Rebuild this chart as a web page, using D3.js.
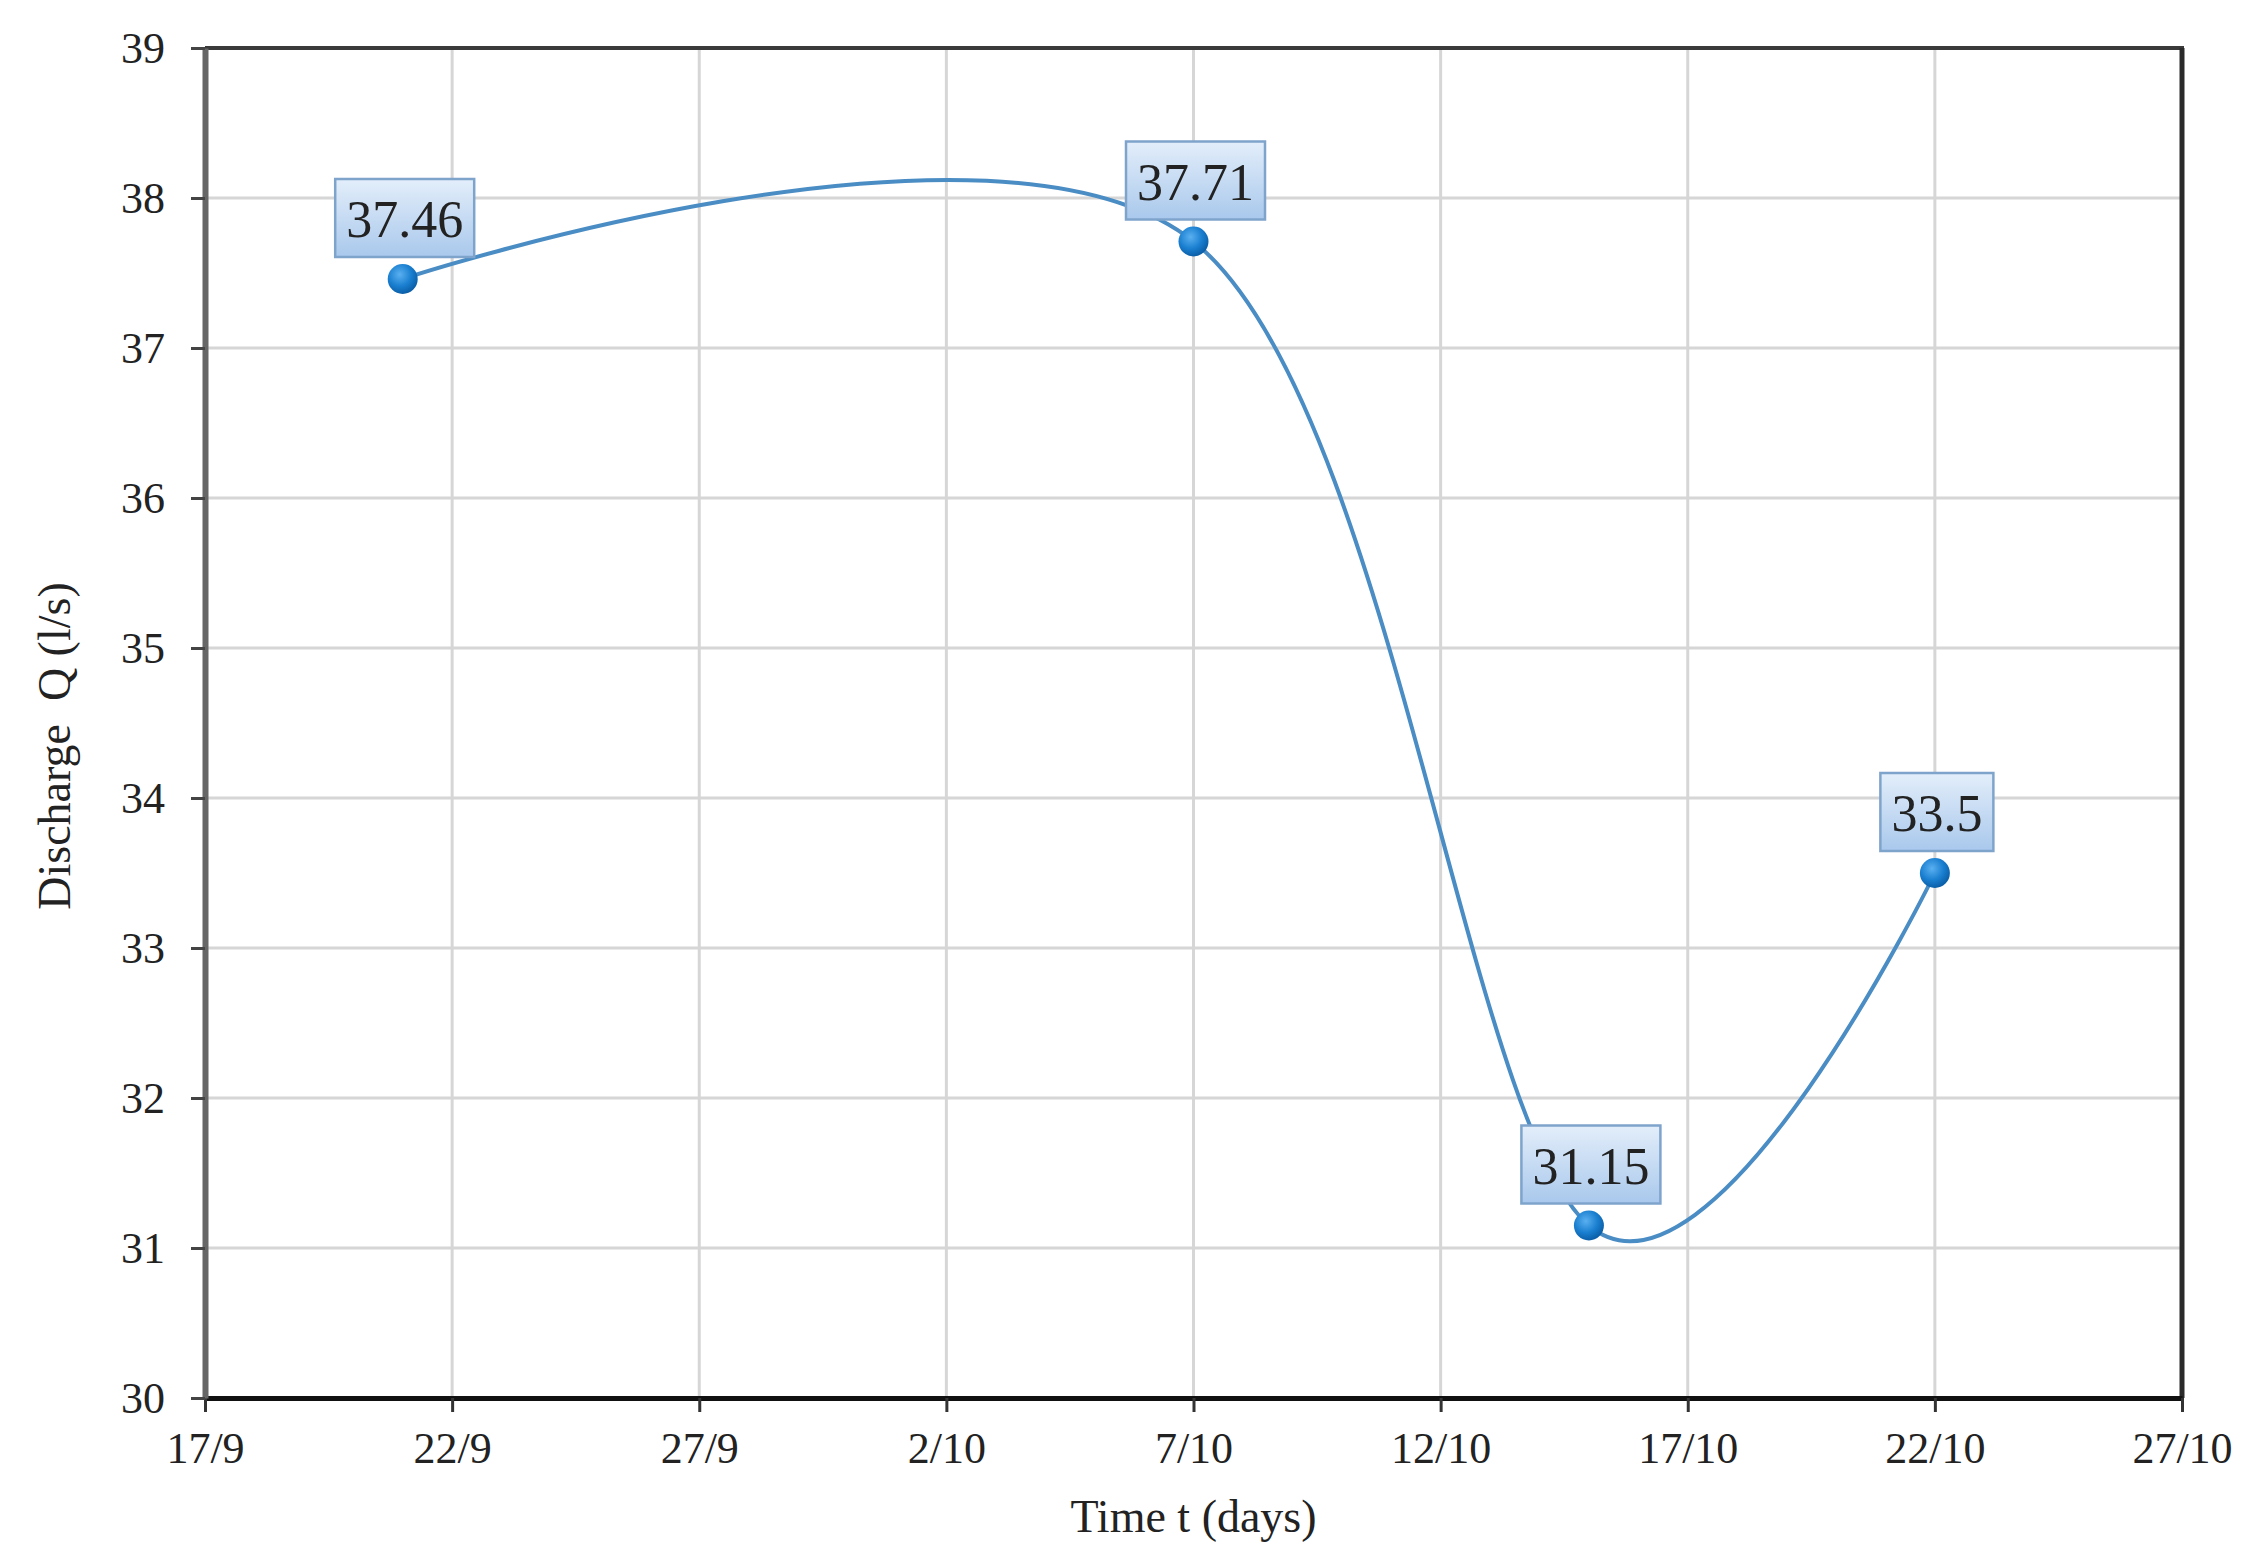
<!DOCTYPE html>
<html>
<head>
<meta charset="utf-8">
<script src="https://cdn.jsdelivr.net/npm/d3@7"></script>
<style>
  html, body { margin: 0; padding: 0; background: #ffffff; }
  svg { display: block; }
  text { font-family: "Liberation Serif", "Times New Roman", serif; fill: #222; }
</style>
</head>
<body>
<svg id="chart" width="2244" height="1547"></svg>
<script>
// ---------- data ----------
const dates = ["2013-09-21", "2013-10-07", "2013-10-15", "2013-10-22"];
const discharge = [37.46, 37.71, 31.15, 33.5];
const pointLabels = ["37.46", "37.71", "31.15", "33.5"];
const xTickDates = ["2013-09-17", "2013-09-22", "2013-09-27", "2013-10-02", "2013-10-07",
                    "2013-10-12", "2013-10-17", "2013-10-22", "2013-10-27"];
const xTickLabels = ["17/9", "22/9", "27/9", "2/10", "7/10", "12/10", "17/10", "22/10", "27/10"];
const yTicks = [30, 31, 32, 33, 34, 35, 36, 37, 38, 39];
const xTitle = "Time t (days)";
const yTitle = "Discharge  Q (l/s)";

// ---------- layout ----------
const W = 2244, H = 1547;
const margin = { left: 205, right: 62, top: 48, bottom: 149 };
const iw = W - margin.left - margin.right;
const ih = H - margin.top - margin.bottom;

const parse = d3.timeParse("%Y-%m-%d");
const svg = d3.select("#chart");

const defs = svg.append("defs");
const lg = defs.append("linearGradient").attr("id", "boxGrad")
  .attr("x1", 0).attr("y1", 0).attr("x2", 0).attr("y2", 1);
lg.append("stop").attr("offset", "0%").attr("stop-color", "#e3eefa");
lg.append("stop").attr("offset", "100%").attr("stop-color", "#a9c8ec");
const rg = defs.append("radialGradient").attr("id", "dotGrad")
  .attr("cx", "40%").attr("cy", "35%").attr("r", "65%");
rg.append("stop").attr("offset", "0%").attr("stop-color", "#5ab0f0");
rg.append("stop").attr("offset", "60%").attr("stop-color", "#1a7fd0");
rg.append("stop").attr("offset", "100%").attr("stop-color", "#0b5fa8");

const x = d3.scaleTime()
  .domain([parse(xTickDates[0]), parse(xTickDates[xTickDates.length - 1])])
  .range([0, iw]);
const y = d3.scaleLinear().domain([30, 39]).range([ih, 0]);

const g = svg.append("g").attr("transform", `translate(${margin.left},${margin.top})`);

// gridlines
g.append("g").selectAll("line.hg").data(yTicks).join("line")
  .attr("x1", 0).attr("x2", iw)
  .attr("y1", d => y(d)).attr("y2", d => y(d))
  .attr("stroke", "#d6d6d6").attr("stroke-width", 3);
g.append("g").selectAll("line.vg").data(xTickDates).join("line")
  .attr("x1", d => x(parse(d))).attr("x2", d => x(parse(d)))
  .attr("y1", 0).attr("y2", ih)
  .attr("stroke", "#d6d6d6").attr("stroke-width", 3);

// frame (top, right)
g.append("line").attr("x1", 0).attr("x2", iw + 2).attr("y1", 0).attr("y2", 0)
  .attr("stroke", "#3a3a3a").attr("stroke-width", 4);
g.append("line").attr("x1", iw).attr("x2", iw).attr("y1", 0).attr("y2", ih)
  .attr("stroke", "#2a2a2a").attr("stroke-width", 5);

// axes
const xAxis = d3.axisBottom(x)
  .tickValues(xTickDates.map(parse))
  .tickFormat((d, i) => xTickLabels[i])
  .tickSizeInner(14).tickSizeOuter(0).tickPadding(20);
const gx = g.append("g").attr("transform", `translate(0,${ih})`).call(xAxis);
gx.select(".domain").attr("stroke", "#111").attr("stroke-width", 5);
gx.selectAll(".tick line").attr("stroke", "#333").attr("stroke-width", 3);
gx.selectAll(".tick text").attr("font-size", 44).attr("fill", "#222")
  .attr("font-family", "Liberation Serif");

const yAxis = d3.axisLeft(y)
  .tickValues(yTicks)
  .tickSizeInner(14).tickSizeOuter(0).tickPadding(26);
const gy = g.append("g").call(yAxis);
gy.select(".domain").attr("stroke", "#666").attr("stroke-width", 6);
gy.selectAll(".tick line").attr("stroke", "#444").attr("stroke-width", 3);
gy.selectAll(".tick text").attr("font-size", 44).attr("fill", "#222")
  .attr("font-family", "Liberation Serif");

// axis titles
svg.append("text")
  .attr("x", margin.left + x(parse("2013-10-07")))
  .attr("y", 1532)
  .attr("text-anchor", "middle")
  .attr("font-size", 46)
  .text(xTitle);
svg.append("text")
  .attr("transform", `translate(70,746) rotate(-90)`)
  .attr("text-anchor", "middle")
  .attr("font-size", 46)
  .style("white-space", "pre")
  .text(yTitle);

// series
const pts = dates.map((d, i) => ({ date: parse(d), v: discharge[i], label: pointLabels[i] }));
const line = d3.line()
  .x(d => x(d.date)).y(d => y(d.v))
  .curve(d3.curveCardinal.tension(0));
g.append("path").datum(pts)
  .attr("d", line)
  .attr("fill", "none")
  .attr("stroke", "#4a8cc4")
  .attr("stroke-width", 4);

g.append("g").selectAll("circle").data(pts).join("circle")
  .attr("cx", d => x(d.date)).attr("cy", d => y(d.v))
  .attr("r", 15)
  .attr("fill", "url(#dotGrad)");

// data labels
const lab = g.append("g").selectAll("g").data(pts).join("g")
  .attr("transform", d => `translate(${x(d.date)},${y(d.v)})`);
lab.each(function (d) {
  const s = d3.select(this);
  const t = s.append("text")
    .attr("text-anchor", "middle")
    .attr("font-size", 52)
    .attr("fill", "#1c2230")
    .attr("x", 2)
    .attr("y", -42)
    .text(d.label);
  const bw = t.node().getComputedTextLength() + 22;
  s.insert("rect", "text")
    .attr("x", -bw / 2 + 2).attr("y", -100)
    .attr("width", bw).attr("height", 78)
    .attr("fill", "url(#boxGrad)")
    .attr("stroke", "#7fa4cc").attr("stroke-width", 2.5);
});
</script>
</body>
</html>
